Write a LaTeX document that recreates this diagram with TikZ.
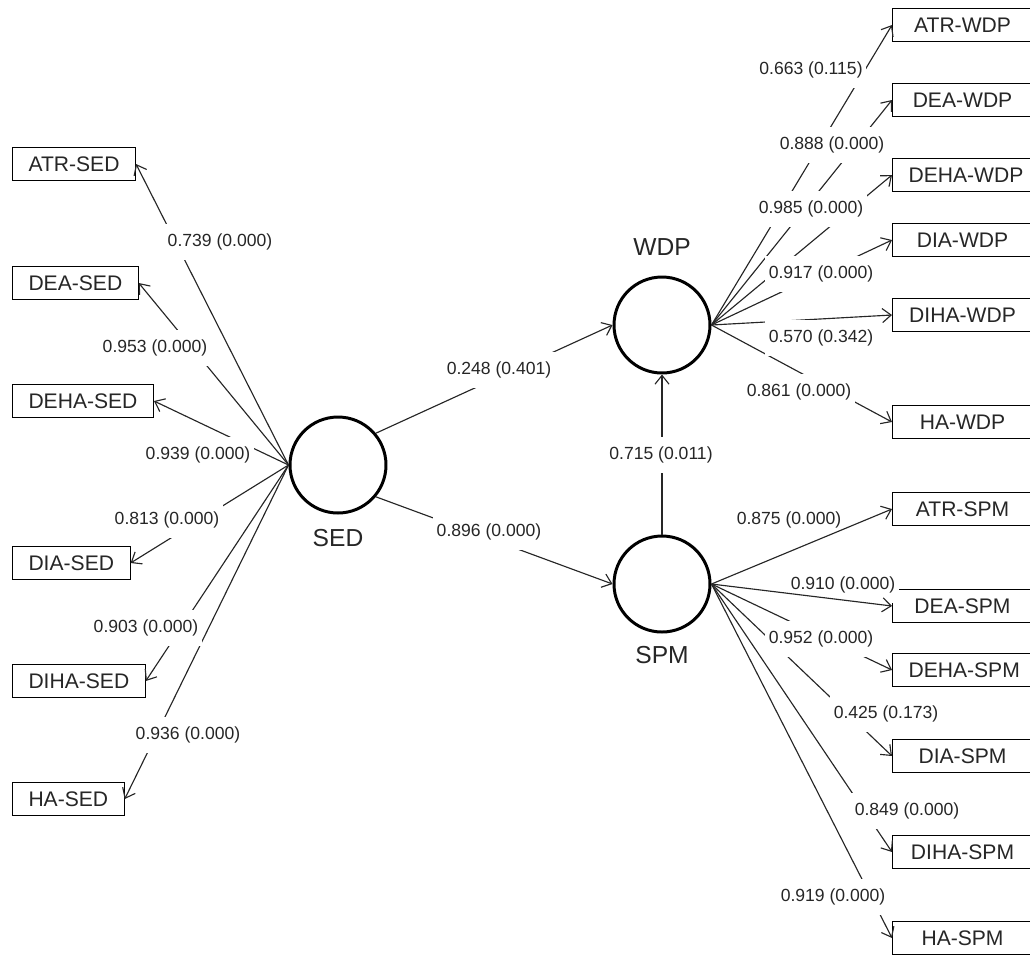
\documentclass[tikz,border=0pt]{standalone}
\usepackage{fontspec}
\setmainfont{Liberation Sans}
\usepackage{tikz}
\usetikzlibrary{arrows.meta, positioning}

\begin{document}
\begin{tikzpicture}[
  x=0.02cm, y=0.02cm,
  every node/.style={text=black!85},
  latent/.style={circle, draw, line width=1.7pt, minimum size=1.92cm, inner sep=0pt},
  lvname/.style={font=\fontsize{14}{16}\selectfont},
  indicator/.style={rectangle, draw, line width=0.6pt, minimum height=0.66cm, inner xsep=0.32cm, anchor=west, font=\fontsize{12}{14}\selectfont},
  indright/.style={indicator, minimum width=2.8cm},
  coef/.style={fill=white, inner xsep=2pt, inner ysep=0pt, minimum height=20pt, font=\fontsize{10}{12}\selectfont},
  load/.style={draw=black!85, line width=0.65pt, -{Straight Barb[length=5pt,width=8pt]}},
]
  \useasboundingbox (0,0) rectangle (1030,-958);
  \clip (0,0) rectangle (1030,-958);

  \node[latent] (sed) at (338,-465) {};
  \node[latent] (wdp) at (662,-325) {};
  \node[latent] (spm) at (662,-584) {};
  \node[lvname, below=5pt of sed] (sedname) {SED};
  \node[lvname, above=8pt of wdp] (wdpname) {WDP};
  \node[lvname, below=3.5pt of spm] (spmname) {SPM};

  \node[indicator] (atrsed)  at (12,-164) {ATR-SED};
  \node[indicator] (deased)  at (12,-283) {DEA-SED};
  \node[indicator] (dehased) at (12,-401) {DEHA-SED};
  \node[indicator] (diased)  at (12,-563) {DIA-SED};
  \node[indicator] (dihased) at (12,-681) {DIHA-SED};
  \node[indicator] (hased)   at (12,-799) {HA-SED};

  \node[indright] (atrwdp)  at (892,-25)  {ATR-WDP};
  \node[indright] (deawdp)  at (892,-100) {DEA-WDP};
  \node[indright] (dehawdp) at (892,-175) {DEHA-WDP};
  \node[indright] (diawdp)  at (892,-240) {DIA-WDP};
  \node[indright] (dihawdp) at (892,-315) {DIHA-WDP};
  \node[indright] (hawdp)   at (892,-422) {HA-WDP};

  \node[indright] (atrspm)  at (892,-509) {ATR-SPM};
  \node[indright] (deaspm)  at (892,-606) {DEA-SPM};
  \node[indright] (dehaspm) at (892,-670) {DEHA-SPM};
  \node[indright] (diaspm)  at (892,-756) {DIA-SPM};
  \node[indright] (dihaspm) at (892,-852) {DIHA-SPM};
  \node[indright] (haspm)   at (892,-938) {HA-SPM};

  \node[coef] (c-atrspm) at (789,-520) {0.875 (0.000)};
  \node[coef] (c-deaspm) at (843,-585) {0.910 (0.000)};

  \draw[load] (sed.west) -- (atrsed.east);
  \draw[load] (sed.west) -- (deased.east);
  \draw[load] (sed.west) -- (dehased.east);
  \draw[load] (sed.west) -- (diased.east);
  \draw[load] (sed.west) -- (dihased.east);
  \draw[load] (sed.west) -- (hased.east);

  \draw[load] (wdp.east) -- (atrwdp.west);
  \draw[load] (wdp.east) -- (deawdp.west);
  \draw[load] (wdp.east) -- (dehawdp.west);
  \draw[load] (wdp.east) -- (diawdp.west);
  \draw[load] (wdp.east) -- (dihawdp.west);
  \draw[load] (wdp.east) -- (hawdp.west);

  \draw[load] (spm.east) -- (atrspm.west);
  \draw[load] (spm.east) -- (deaspm.west);
  \draw[load] (spm.east) -- (dehaspm.west);
  \draw[load] (spm.east) -- (diaspm.west);
  \draw[load] (spm.east) -- (dihaspm.west);
  \draw[load] (spm.east) -- (haspm.west);

  \draw[load] (sed.40) -- (wdp.west);
  \draw[load] (sed.-40) -- (spm.west);
  \draw[load] (spm.north) -- (wdp.south);

  \node[coef] (c-atrsed)  at (220,-242) {0.739 (0.000)};
  \node[coef] (c-deased)  at (155,-348) {0.953 (0.000)};
  \node[coef] (c-dehased) at (198,-455) {0.939 (0.000)};
  \node[coef] (c-diased)  at (167,-520) {0.813 (0.000)};
  \node[coef] (c-dihased) at (146,-628) {0.903 (0.000)};
  \node[coef] (c-hased)   at (188,-735) {0.936 (0.000)};

  \node[coef] (c-sedwdp) at (499,-370) {0.248 (0.401)};
  \node[coef] (c-sedspm) at (489,-532) {0.896 (0.000)};
  \node[coef] (c-spmwdp) at (661,-455) {0.715 (0.011)};

  \node[coef] (c-atrwdp)  at (811,-70)  {0.663 (0.115)};
  \node[coef] (c-deawdp)  at (832,-145) {0.888 (0.000)};
  \node[coef] (c-dehawdp) at (811,-209) {0.985 (0.000)};
  \node[coef] (c-diawdp)  at (821,-274) {0.917 (0.000)};
  \node[coef] (c-dihawdp) at (821,-338) {0.570 (0.342)};
  \node[coef] (c-hawdp)   at (799,-392) {0.861 (0.000)};

  \node[coef] (c-dehaspm) at (821,-639) {0.952 (0.000)};
  \node[coef] (c-diaspm)  at (886,-714) {0.425 (0.173)};
  \node[coef] (c-dihaspm) at (907,-811) {0.849 (0.000)};
  \node[coef] (c-haspm)   at (833,-897) {0.919 (0.000)};
\end{tikzpicture}
\end{document}
